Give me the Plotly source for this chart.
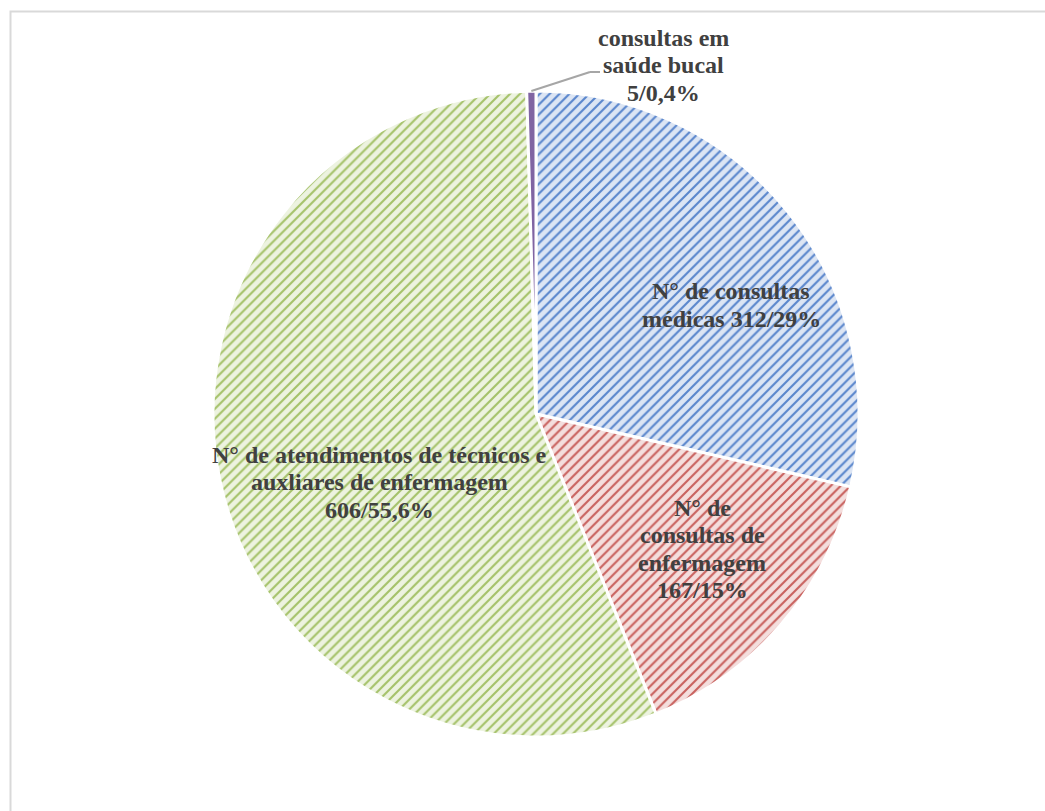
import math
import plotly.graph_objects as go

# Atendimentos por categoria
categories = [
    "N° de consultas médicas",
    "N° de consultas de enfermagem",
    "N° de atendimentos de técnicos e auxliares de enfermagem",
    "consultas em saúde bucal",
]
values = [312, 167, 606, 5]
percent_text = ["29%", "15%", "55,6%", "0,4%"]
label_lines = [
    ["N° de consultas", "médicas {v}/{p}"],
    ["N° de", "consultas de", "enfermagem", "{v}/{p}"],
    ["N° de atendimentos de técnicos e", "auxliares de enfermagem", "{v}/{p}"],
    ["consultas em", "saúde bucal", "{v}/{p}"],
]

line_colors = ["#5A86CC", "#C9625F", "#A5C26A", "#8064A2"]
fill_colors = ["#DCE5F4", "#F4DEDD", "#EDF3E0", "#8064A2"]

W, H = 1045, 811
cx, cy, R = 536, 414, 323  # pie centre and radius in pixels

fig = go.Figure(
    go.Pie(
        labels=categories,
        values=values,
        sort=False,
        direction="clockwise",
        rotation=0,
        textinfo="none",
        hoverinfo="label+value+percent",
        showlegend=False,
        domain=dict(
            x=[(cx - R) / W, (cx + R) / W],
            y=[(H - cy - R) / H, (H - cy + R) / H],
        ),
        marker=dict(
            colors=fill_colors,
            line=dict(color="white", width=3),
            pattern=dict(
                shape=["/", "/", "/", ""],
                fgcolor=line_colors,
                bgcolor=fill_colors,
                size=7,
                solidity=0.3,
            ),
        ),
    )
)

# Label anchor points (pixel centres of each text block)
label_pos = [(731, 305), (702, 549), (379, 482), (663, 65)]
line_step = 27.5
font = dict(family="Liberation Serif, Times New Roman, serif", size=24, color="#404040")

annotations = []
for lines, (lx, ly), v, p in zip(label_lines, label_pos, values, percent_text):
    n = len(lines)
    for i, txt in enumerate(lines):
        y_px = ly + (i - (n - 1) / 2) * line_step
        annotations.append(
            dict(
                text="<b>" + txt.format(v=v, p=p) + "</b>",
                x=lx / W,
                y=1 - y_px / H,
                xref="paper",
                yref="paper",
                xanchor="center",
                yanchor="middle",
                showarrow=False,
                font=font,
            )
        )

# Leader line for the small slice, starting at the middle of its arc
total = sum(values)
start_frac = sum(values[:3]) / total
mid_angle = 2 * math.pi * (start_frac + values[3] / total / 2)
px0 = cx + R * math.sin(mid_angle)
py0 = cy - R * math.cos(mid_angle)
leader = [(px0, py0), (590, 72), (600, 72)]
shapes = []
for (xa, ya), (xb, yb) in zip(leader[:-1], leader[1:]):
    shapes.append(
        dict(
            type="line",
            xref="paper",
            yref="paper",
            x0=xa / W,
            y0=1 - ya / H,
            x1=xb / W,
            y1=1 - yb / H,
            line=dict(color="#A6A6A6", width=2),
        )
    )

# Chart area frame
shapes.append(
    dict(
        type="rect",
        xref="paper",
        yref="paper",
        x0=10.5 / W,
        y0=-0.1,
        x1=1.1,
        y1=1 - 11.5 / H,
        line=dict(color="#D9D9D9", width=2),
        fillcolor="rgba(0,0,0,0)",
        layer="below",
    )
)

fig.update_layout(
    width=W,
    height=H,
    margin=dict(l=0, r=0, t=0, b=0),
    paper_bgcolor="white",
    plot_bgcolor="white",
    annotations=annotations,
    shapes=shapes,
)

fig.write_html("out.html")
